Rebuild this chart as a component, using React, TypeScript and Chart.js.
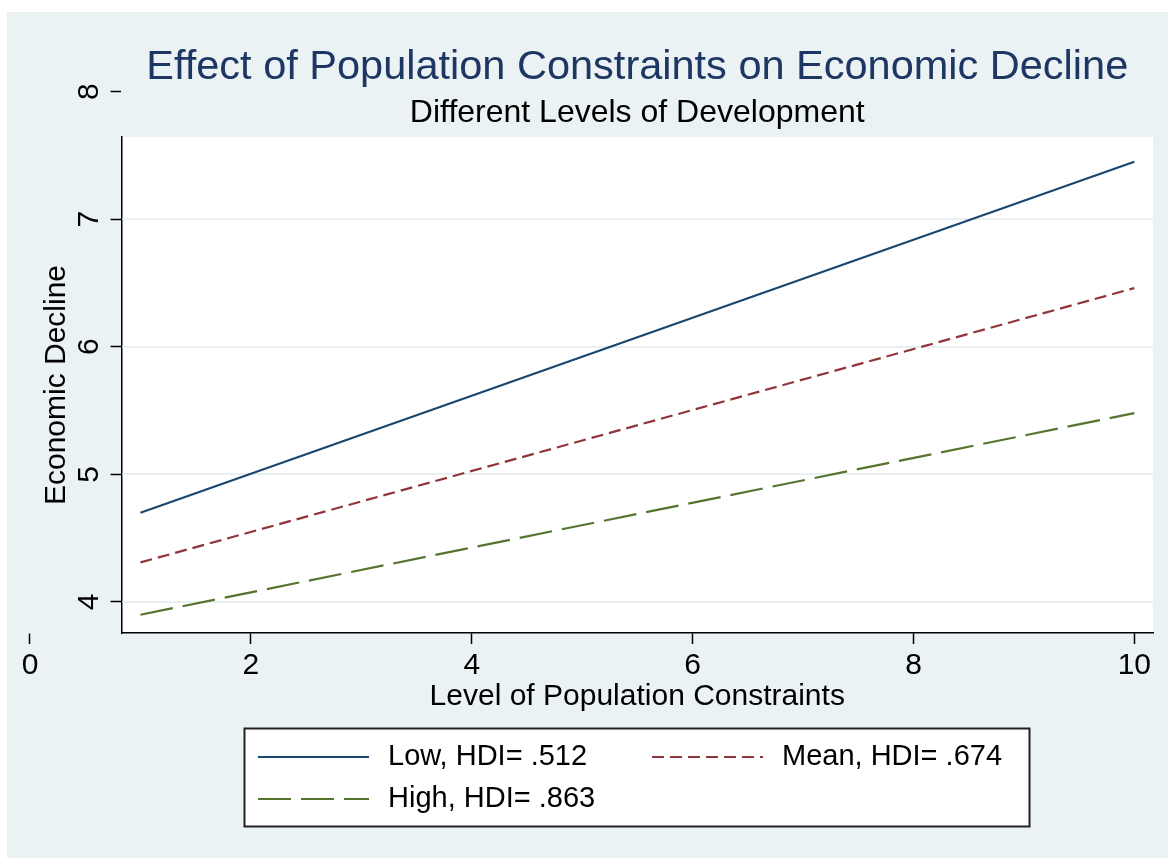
import React, { useEffect, useRef } from "react";
import { Chart, registerables } from "chart.js";

Chart.register(...registerables);

const TITLE = "Effect of Population Constraints on Economic Decline";
const SUBTITLE = "Different Levels of Development";
const X_TITLE = "Level of Population Constraints";
const Y_TITLE = "Economic Decline";

const xValues = [1, 10];
const lowValues = [4.7, 7.45];
const meanValues = [4.31, 6.46];
const highValues = [3.9, 5.48];
const seriesNames = ["Low, HDI= .512", "Mean, HDI= .674", "High, HDI= .863"];
const seriesColors = ["#1a476f", "#90353b", "#55752f"];

const xTicks = [0, 2, 4, 6, 8, 10];
const yTicks = [4, 5, 6, 7, 8];
const yGridValues = [4, 5, 6, 7];
const xRange = [0.8286, 10.169];
const yRange = [3.757, 7.644];

const FONT = '"Liberation Sans", Arial, Helvetica, sans-serif';
const W = 1168;
const H = 858;

const toPoints = (vals: number[]) => vals.map((v, i) => ({ x: xValues[i], y: v }));

const decorPlugin = {
  id: "decor",
  beforeDraw(chart: any) {
    const { ctx, chartArea } = chart;
    ctx.save();
    ctx.fillStyle = "#ffffff";
    ctx.fillRect(chartArea.left, chartArea.top, chartArea.right - chartArea.left, chartArea.bottom - chartArea.top);
    ctx.restore();
  },
  beforeDatasetsDraw(chart: any) {
    const { ctx, chartArea } = chart;
    const y = chart.scales.y;
    ctx.save();
    ctx.strokeStyle = "#e8f0f2";
    ctx.lineWidth = 2;
    yGridValues.forEach((v) => {
      const py = Math.round(y.getPixelForValue(v));
      ctx.beginPath();
      ctx.moveTo(chartArea.left + 1, py);
      ctx.lineTo(chartArea.right, py);
      ctx.stroke();
    });
    ctx.restore();
  },
  afterDraw(chart: any) {
    const { ctx, chartArea } = chart;
    const cx = (chartArea.left + chartArea.right) / 2;
    ctx.save();
    ctx.textAlign = "center";
    ctx.textBaseline = "alphabetic";
    ctx.fillStyle = "#1e3664";
    ctx.font = `41.5px ${FONT}`;
    ctx.fillText(TITLE, cx, 79);
    ctx.fillStyle = "#000000";
    ctx.font = `32px ${FONT}`;
    ctx.fillText(SUBTITLE, cx, 122);

    // legend
    const bx = 244.5, by = 728.5, bw = 785, bh = 98;
    ctx.fillStyle = "#ffffff";
    ctx.fillRect(bx, by, bw, bh);
    ctx.strokeStyle = "#222222";
    ctx.lineWidth = 2;
    ctx.strokeRect(bx, by, bw, bh);

    const slots = [
      { x: 258, y: 757, tx: 388 },
      { x: 652, y: 757, tx: 782 },
      { x: 258, y: 799, tx: 388 },
    ];
    chart.data.datasets.forEach((ds: any, i: number) => {
      const s = slots[i];
      ctx.save();
      ctx.strokeStyle = ds.borderColor;
      ctx.lineWidth = ds.borderWidth;
      ctx.setLineDash(ds.borderDash || []);
      ctx.beginPath();
      ctx.moveTo(s.x, s.y);
      ctx.lineTo(s.x + 111, s.y);
      ctx.stroke();
      ctx.restore();
      ctx.fillStyle = "#000000";
      ctx.font = `29px ${FONT}`;
      ctx.textAlign = "left";
      ctx.textBaseline = "alphabetic";
      ctx.fillText(ds.label, s.tx, s.y + 7.5);
    });
    ctx.restore();
  },
};

export default function App() {
  const ref = useRef<HTMLCanvasElement | null>(null);

  useEffect(() => {
    if (!ref.current) return;
    const tickFont = { family: FONT, size: 30 };
    const chart = new Chart(ref.current, {
      type: "line",
      data: {
        datasets: [
          {
            label: seriesNames[0],
            data: toPoints(lowValues),
            borderColor: seriesColors[0],
            borderWidth: 2.2,
            pointRadius: 0,
            fill: false,
          },
          {
            label: seriesNames[1],
            data: toPoints(meanValues),
            borderColor: seriesColors[1],
            borderWidth: 2.2,
            borderDash: [12, 6],
            pointRadius: 0,
            fill: false,
          },
          {
            label: seriesNames[2],
            data: toPoints(highValues),
            borderColor: seriesColors[2],
            borderWidth: 2.2,
            borderDash: [33, 10],
            pointRadius: 0,
            fill: false,
          },
        ],
      },
      options: {
        responsive: false,
        animation: false,
        devicePixelRatio: 1,
        layout: { padding: { left: 20, top: 137, right: 15, bottom: 135 } },
        plugins: {
          legend: { display: false },
          title: { display: false },
          tooltip: { enabled: false },
        },
        scales: {
          x: {
            type: "linear",
            min: xRange[0],
            max: xRange[1],
            afterBuildTicks: (s: any) => {
              s.ticks = xTicks.map((v) => ({ value: v }));
            },
            afterFit: (s: any) => {
              s.height = 90;
            },
            grid: {
              drawOnChartArea: false,
              drawTicks: true,
              tickLength: 11,
              tickColor: "#000",
              tickWidth: 1.5,
            },
            border: { display: true, color: "#000", width: 1.5 },
            ticks: {
              autoSkip: false,
              minRotation: 0,
              maxRotation: 0,
              padding: 4,
              color: "#000",
              font: tickFont,
              callback: (v: any) => String(v),
            },
            title: {
              display: true,
              text: X_TITLE,
              color: "#000",
              font: { family: FONT, size: 30 },
              padding: { top: 0, bottom: 8 },
            },
          },
          y: {
            type: "linear",
            min: yRange[0],
            max: yRange[1],
            afterBuildTicks: (s: any) => {
              s.ticks = yTicks.map((v) => ({ value: v }));
            },
            afterFit: (s: any) => {
              s.width = 101.5;
            },
            grid: {
              drawOnChartArea: false,
              drawTicks: true,
              tickLength: 11,
              tickColor: "#000",
              tickWidth: 1.5,
            },
            border: { display: true, color: "#000", width: 1.5 },
            ticks: {
              autoSkip: false,
              minRotation: 90,
              maxRotation: 90,
              crossAlign: "center",
              padding: 12,
              color: "#000",
              font: tickFont,
              callback: (v: any) => String(v),
            },
            title: {
              display: true,
              text: Y_TITLE,
              color: "#000",
              font: { family: FONT, size: 30 },
              padding: { top: 18.7, bottom: 0 },
            },
          },
        },
      },
      plugins: [decorPlugin],
    } as any);
    return () => chart.destroy();
  }, []);

  return (
    <div style={{ position: "absolute", left: 0, top: 0, width: W, height: H, background: "#ffffff" }}>
      <div style={{ position: "absolute", left: 7, top: 12, width: W - 7, height: H - 12, background: "#eaf2f3" }} />
      <canvas ref={ref} width={W} height={H} style={{ position: "absolute", left: 0, top: 0, width: W, height: H }} />
    </div>
  );
}
